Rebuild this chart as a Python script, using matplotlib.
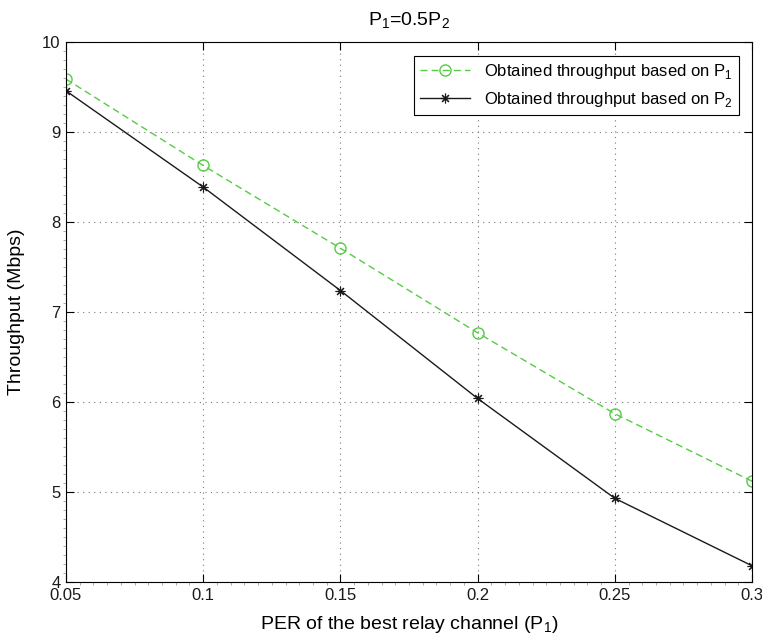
import numpy as np
import matplotlib.pyplot as plt
from matplotlib.ticker import MultipleLocator

plt.rcParams['font.family'] = ['Liberation Sans', 'DejaVu Sans']
plt.rcParams['mathtext.fontset'] = 'custom'
plt.rcParams['mathtext.rm'] = 'Liberation Sans'

per = [0.05, 0.10, 0.15, 0.20, 0.25, 0.30]
thr_p1 = [9.59, 8.63, 7.71, 6.77, 5.87, 5.12]
thr_p2 = [9.46, 8.39, 7.24, 6.04, 4.93, 4.18]

fig = plt.figure(figsize=(7.62, 6.4), dpi=100)
ax = fig.add_axes([0.0866, 0.0906, 0.9004, 0.8434])

ax.plot(per, thr_p1, '--o', color='#55cc44', lw=1.0, ms=8, mfc='none', mew=1.0,
        dashes=(5, 3), label=r'Obtained throughput based on P$_{\mathregular{1}}$')
ax.plot(per, thr_p2, '-', marker=(8, 2, 0), color='#1a1a1a', lw=1.0, ms=7, mew=0.8,
        label=r'Obtained throughput based on P$_{\mathregular{2}}$')

ax.set_xlim(0.05, 0.3)
ax.set_ylim(4, 10)
ax.set_xticks([0.05, 0.1, 0.15, 0.2, 0.25, 0.3])
ax.set_xticklabels(['0.05', '0.1', '0.15', '0.2', '0.25', '0.3'])
ax.set_yticks(range(4, 11))
ax.xaxis.set_minor_locator(MultipleLocator(0.005))
ax.yaxis.set_minor_locator(MultipleLocator(0.1))
ax.tick_params(which='major', direction='in', length=6, width=0.8, labelsize=12,
               top=True, right=True, pad=4)
ax.tick_params(which='minor', direction='out', length=2, width=0.5, colors='#888888',
               top=False, right=False)
ax.tick_params(axis='both', which='major', labelcolor='#1a1a1a')
for s in ax.spines.values():
    s.set_linewidth(0.8)

ax.grid(True, which='major', linestyle=(0, (1, 4)), color='#777777', lw=0.8)

ax.set_xlabel(r'PER of the best relay channel (P$_{\mathregular{1}}$)', fontsize=14, labelpad=8)
ax.set_ylabel('Throughput (Mbps)', fontsize=14, labelpad=12)
ax.set_title(r'P$_{\mathregular{1}}$=0.5P$_{\mathregular{2}}$', fontsize=14, pad=12)

leg = ax.legend(loc='upper right', fontsize=12, fancybox=False, framealpha=1,
                edgecolor='black', borderaxespad=0.8, handlelength=3)
leg.get_frame().set_linewidth(0.8)

fig.savefig('out.png', dpi=100)
